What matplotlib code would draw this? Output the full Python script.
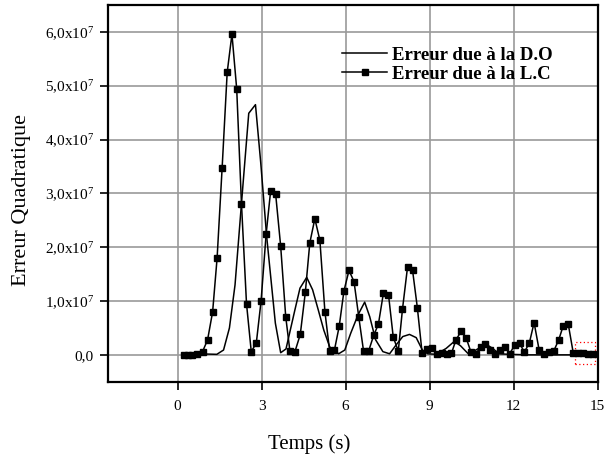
import numpy as np
import matplotlib
matplotlib.use("Agg")
import matplotlib.pyplot as plt
from matplotlib.patches import Rectangle

plt.rcParams['font.family'] = ['Liberation Serif', 'DejaVu Serif']
plt.rcParams['mathtext.fontset'] = 'custom'
plt.rcParams['mathtext.rm'] = 'Liberation Serif'
plt.rcParams['mathtext.it'] = 'Liberation Serif:italic'
plt.rcParams['mathtext.bf'] = 'Liberation Serif:bold'

# Erreur due a la L.C (squares), values in units of 1e7
t_lc = [0.21, 0.36, 0.51, 0.69, 0.89, 1.07, 1.25, 1.41, 1.59, 1.77,
        1.94, 2.11, 2.28, 2.46, 2.63, 2.81, 2.98, 3.16, 3.32, 3.50,
        3.68, 3.86, 4.01, 4.19, 4.38, 4.56, 4.72, 4.90, 5.08, 5.26,
        5.43, 5.60, 5.77, 5.94, 6.12, 6.30, 6.47, 6.64, 6.82, 7.00,
        7.17, 7.35, 7.53, 7.70, 7.88, 8.03, 8.21, 8.39, 8.56, 8.73,
        8.91, 9.09, 9.27, 9.44, 9.61, 9.78, 9.94, 10.13, 10.30, 10.47,
        10.65, 10.82, 10.99, 11.16, 11.34, 11.52, 11.70, 11.86, 12.04, 12.21,
        12.38, 12.56, 12.73, 12.91, 13.09, 13.26, 13.43, 13.61, 13.77, 13.95,
        14.13, 14.31, 14.48, 14.66, 14.84]
e_lc = [0.00, 0.00, 0.00, 0.01, 0.06, 0.28, 0.80, 1.80, 3.48, 5.25,
        5.96, 4.94, 2.81, 0.95, 0.06, 0.22, 1.00, 2.24, 3.04, 2.99,
        2.02, 0.71, 0.07, 0.06, 0.38, 1.16, 2.08, 2.53, 2.13, 0.80,
        0.07, 0.09, 0.53, 1.19, 1.57, 1.36, 0.70, 0.07, 0.07, 0.36,
        0.57, 1.15, 1.12, 0.33, 0.07, 0.85, 1.63, 1.57, 0.88, 0.04,
        0.10, 0.12, 0.01, 0.03, 0.02, 0.03, 0.28, 0.44, 0.32, 0.06,
        0.02, 0.15, 0.21, 0.09, 0.01, 0.09, 0.14, 0.02, 0.19, 0.22,
        0.05, 0.22, 0.60, 0.09, 0.02, 0.05, 0.07, 0.28, 0.54, 0.57,
        0.03, 0.03, 0.04, 0.02, 0.02]

# Erreur due a la D.O (plain line), values in units of 1e7
t_do = [0.21, 0.69, 1.40, 1.64, 1.85, 2.05, 2.29, 2.54, 2.78, 2.97,
        3.18, 3.49, 3.68, 3.87, 4.19, 4.37, 4.61, 4.82, 5.02, 5.22,
        5.43, 5.75, 5.97, 6.18, 6.44, 6.68, 6.86, 7.07, 7.33, 7.57,
        7.81, 8.04, 8.28, 8.52, 8.74, 8.93, 9.24, 9.59, 9.88, 10.10,
        10.36, 10.65, 11.01, 11.25, 11.48, 11.84, 12.55, 13.62, 14.84]
e_do = [0.00, 0.02, 0.01, 0.09, 0.50, 1.30, 2.88, 4.49, 4.65, 3.56,
        2.20, 0.59, 0.04, 0.11, 0.84, 1.24, 1.44, 1.21, 0.84, 0.46,
        0.15, 0.02, 0.09, 0.40, 0.74, 0.98, 0.71, 0.28, 0.06, 0.02,
        0.19, 0.34, 0.38, 0.32, 0.09, 0.02, 0.01, 0.12, 0.25, 0.17,
        0.03, 0.09, 0.20, 0.12, 0.02, 0.01, 0.00, 0.00, 0.00]

x_ticks = [0, 3, 6, 9, 12, 15]
y_ticks = [0, 1, 2, 3, 4, 5, 6]
y_labels = ['0,0'] + [r'%d,0x10$^{7}$' % k for k in range(1, 7)]
scale = 1e7

# dotted box near the end of the run
box_t = (14.19, 14.90)
box_e = (-0.17, 0.24)

fig = plt.figure(figsize=(6.08, 4.65), dpi=100)
ax = fig.add_axes([0.177, 0.179, 0.806, 0.810])

ax.plot(t_do, np.array(e_do) * scale, color='black', lw=1.1,
        label='Erreur due à la D.O')
ax.plot(t_lc, np.array(e_lc) * scale, color='black', lw=1.1, marker='s',
        markersize=4.2, label='Erreur due à la L.C')

ax.add_patch(Rectangle((box_t[0], box_e[0] * scale), box_t[1] - box_t[0],
                       (box_e[1] - box_e[0]) * scale, fill=False,
                       edgecolor='red', linestyle=(0, (1, 2)), lw=0.9))

ax.set_xlim(-2.5, 15)
ax.set_ylim(-0.5 * scale, 6.5 * scale)
ax.set_xticks(x_ticks)
ax.set_yticks(np.array(y_ticks) * scale)
ax.set_yticklabels(y_labels)
ax.grid(True, color='#9a9a9a', lw=1.2)
ax.set_axisbelow(True)
for s in ax.spines.values():
    s.set_linewidth(1.6)
ax.tick_params(direction='out', length=6, width=1.2, labelsize=11)
ax.tick_params(axis='x', pad=7)
ax.tick_params(axis='y', pad=4)

leg = ax.legend(loc='upper left', bbox_to_anchor=(0.46, 0.915), frameon=False,
                numpoints=1, handlelength=2.4, handletextpad=0.25,
                labelspacing=0.12, borderpad=0,
                prop={'family': 'Liberation Serif', 'weight': 'bold', 'size': 13.5})

fig.text(0.036, 0.57, 'Erreur Quadratique', rotation=90, fontsize=16,
         ha='center', va='center')
fig.text(0.508, 0.045, 'Temps (s)', fontsize=15, ha='center', va='center')

fig.savefig('out.png', dpi=100)
